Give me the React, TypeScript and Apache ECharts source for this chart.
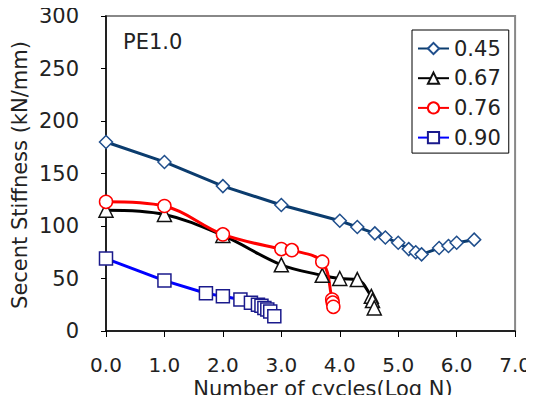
import React, { useEffect, useRef } from "react";
import * as echarts from "echarts";

const seriesNames = ["0.45", "0.67", "0.76", "0.90"];

const x045 = [0, 1, 2, 3, 4, 4.3, 4.6, 4.78, 5.0, 5.18, 5.3, 5.4, 5.7, 5.86, 6.0, 6.3];
const y045 = [180, 161, 138, 120, 105, 99, 93, 89, 84, 78, 75, 73, 79, 81, 84, 87];

const x067 = [0, 1, 2, 3, 3.7, 4.0, 4.3, 4.54, 4.56, 4.59];
const y067 = [115, 111, 91, 63, 53, 50, 49, 33, 29, 22];

const x076 = [0, 1, 2, 3, 3.18, 3.7, 3.87, 3.88, 3.89];
const y076 = [123, 119, 92, 78, 77, 66, 30, 27, 23];

const x090 = [0, 1, 1.71, 2.0, 2.3, 2.48, 2.6, 2.66, 2.71, 2.76, 2.81, 2.88];
const y090 = [69, 48, 36, 33, 30, 27, 25, 24, 22, 20.5, 18.5, 14];

const xTicks = [0, 1, 2, 3, 4, 5, 6, 7];
const yTicks = [0, 50, 100, 150, 200, 250, 300];

const FONT = "DejaVu Sans";

function pairs(xs: number[], ys: number[]) {
  return xs.map((x, i) => [x, ys[i]]);
}

export default function App() {
  const ref = useRef<HTMLDivElement>(null);
  useEffect(() => {
    if (!ref.current) return;
    const chart = echarts.init(ref.current, null, { renderer: "svg" });
    const mk = (
      name: string,
      xs: number[],
      ys: number[],
      lineColor: string,
      symbol: string,
      symbolSize: number,
      border: string,
      smooth: number | boolean
    ) => ({
      name,
      type: "line",
      data: pairs(xs, ys),
      symbol,
      symbolSize,
      smooth,
      lineStyle: { color: lineColor, width: 3 },
      itemStyle: { color: "#ffffff", borderColor: border, borderWidth: 1.5 },
    });
    chart.setOption({
      animation: false,
      backgroundColor: "#ffffff",
      grid: {
        left: 106,
        right: 13,
        top: 16,
        bottom: 72,
        show: true,
        borderColor: "#888888",
        borderWidth: 2,
        backgroundColor: "transparent",
      },
      legend: {
        orient: "vertical",
        left: 412,
        top: 30,
        data: seriesNames,
        itemWidth: 31,
        itemHeight: 14,
        itemGap: 8.7,
        padding: [8, 8, 5, 5],
        borderColor: "#000000",
        borderWidth: 1,
        backgroundColor: "#ffffff",
        textStyle: { fontFamily: FONT, fontSize: 21, color: "#222222" },
      },
      xAxis: {
        type: "value",
        min: xTicks[0],
        max: xTicks[xTicks.length - 1],
        interval: 1,
        splitLine: { show: false },
        axisLine: { lineStyle: { color: "#000000", width: 1.5 } },
        axisTick: { inside: false, length: 6, lineStyle: { color: "#000000" } },
        axisLabel: {
          margin: 26,
          fontFamily: FONT,
          fontSize: 20,
          lineHeight: 15,
          color: "#222222",
          formatter: (v: number) => v.toFixed(1),
        },
      },
      yAxis: {
        type: "value",
        min: yTicks[0],
        max: yTicks[yTicks.length - 1],
        interval: 50,
        splitLine: { show: false },
        axisLine: { show: true, lineStyle: { color: "#000000", width: 1.5 } },
        axisTick: { show: true, inside: false, length: 5, lineStyle: { color: "#000000" } },
        axisLabel: { margin: 27, fontFamily: FONT, fontSize: 21, color: "#222222" },
      },
      graphic: [
        {
          type: "text",
          left: 123,
          top: 31,
          style: { text: "PE1.0", fontFamily: FONT, fontSize: 21, fill: "#222222" },
        },
        {
          type: "text",
          x: 323,
          y: 389,
          style: {
            text: "Number of cycles(Log N)",
            fontFamily: FONT,
            fontSize: 21,
            lineHeight: 17,
            fill: "#222222",
            align: "center",
            verticalAlign: "middle",
          },
        },
        {
          type: "text",
          x: 20,
          y: 175,
          rotation: Math.PI / 2,
          style: {
            text: "Secent Stiffness (kN/mm)",
            fontFamily: FONT,
            fontSize: 21,
            fill: "#222222",
            align: "center",
            verticalAlign: "middle",
          },
        },
      ],
      series: [
        mk(seriesNames[0], x045, y045, "#0B3C6E", "diamond", 13, "#1F4E8C", false),
        mk(seriesNames[1], x067, y067, "#000000", "triangle", 14, "#111111", 0.35),
        mk(seriesNames[2], x076, y076, "#FF0000", "circle", 13, "#FF0000", 0.35),
        mk(seriesNames[3], x090, y090, "#0000FF", "rect", 13, "#1A1A8C", false),
      ],
    });
    return () => chart.dispose();
  }, []);
  return <div ref={ref} style={{ width: 534, height: 403, margin: -8 }} />;
}
